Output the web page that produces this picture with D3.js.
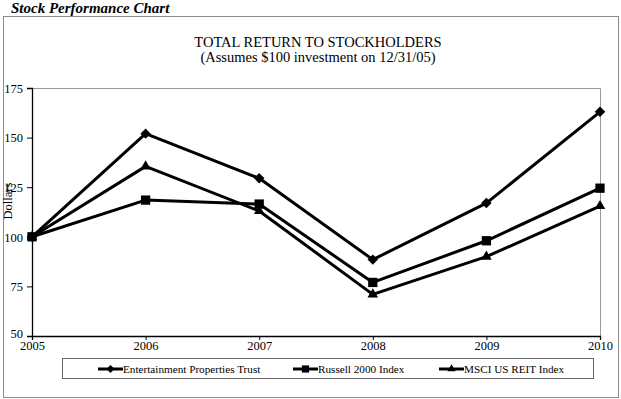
<!DOCTYPE html>
<html>
<head>
<meta charset="utf-8">
<script src="https://cdn.jsdelivr.net/npm/d3@7"></script>
<style>
  body { margin:0; background:#fff; }
  svg, svg text { font-family: "Liberation Serif", "DejaVu Serif", serif !important; }
</style>
</head>
<body>
<svg id="chart" width="621" height="399"></svg>
<script>
// data
const years   = [2005, 2006, 2007, 2008, 2009, 2010];
const eprVals = [100, 152, 129.5, 88.5, 117, 163];
const rusVals = [100, 118.5, 116.5, 77, 98, 124.5];
const reitVals= [100, 135.5, 113, 71, 90, 115.5];
const seriesNames = ['Entertainment Properties Trust', 'Russell 2000 Index', 'MSCI US REIT Index'];
const yTicks  = [50, 75, 100, 125, 150, 175];

const series = [
  { name: seriesNames[0], vals: eprVals,  sym: d3.symbolDiamond2, size: 70 },
  { name: seriesNames[1], vals: rusVals,  sym: d3.symbolSquare2,  size: 110 },
  { name: seriesNames[2], vals: reitVals, sym: d3.symbolTriangle2,size: 80 }
];

const svg = d3.select('#chart');
const L = 32, R = 600, T = 88, B = 336;

const x = d3.scaleLinear().domain([2005, 2010]).range([L, R]);
const y = d3.scaleLinear().domain([50, 175]).range([B, T]);

// header + outer frame
svg.append('text').attr('x', 11).attr('y', 13)
  .style('font-weight','bold').style('font-style','italic').style('font-size','15px')
  .text('Stock Performance Chart');
svg.append('rect').attr('x', 3.5).attr('y', 16.5).attr('width', 615).attr('height', 381)
  .attr('fill','none').attr('stroke','#8c8c8c');

// titles
svg.append('text').attr('x', 318).attr('y', 47).attr('text-anchor','middle')
  .style('font-size','14.5px').text('TOTAL RETURN TO STOCKHOLDERS');
svg.append('text').attr('x', 318).attr('y', 62).attr('text-anchor','middle')
  .style('font-size','14.5px').text('(Assumes $100 investment on 12/31/05)');

// plot frame: gray top/right
svg.append('path').attr('d', `M${L},${T+0.5}H${R+0.5}V${B}`)
  .attr('fill','none').attr('stroke','#9a9a9a');

// axes
const yAx = svg.append('g').attr('transform', `translate(${L},0)`)
  .call(d3.axisLeft(y).tickValues(yTicks).tickSize(5).tickPadding(4));
const xAx = svg.append('g').attr('transform', `translate(0,${B})`)
  .call(d3.axisBottom(x).tickValues(years).tickFormat(d3.format('d')).tickSize(4).tickPadding(1));
[yAx, xAx].forEach(g => {
  g.select('.domain').attr('stroke','#000').attr('stroke-width',1.3);
  g.selectAll('.tick line').attr('stroke','#000');
  g.selectAll('text').style('font-size','12.5px').attr('fill','#000');
});
yAx.selectAll('text').attr('dy','0.35em');
yAx.selectAll('.tick').filter(d => d === 50).select('text').attr('dy','0.1em');
xAx.selectAll('text').attr('dy','0.75em');

svg.append('text').attr('transform','translate(12,201) rotate(-90)')
  .attr('text-anchor','middle').style('font-size','12.5px').text('Dollars');

// lines + markers
const line = d3.line().x((d,i) => x(years[i])).y(d => y(d));
series.forEach(s => {
  svg.append('path').datum(s.vals).attr('d', line)
    .attr('fill','none').attr('stroke','#000').attr('stroke-width',3).attr('stroke-linejoin','round');
  svg.append('g').selectAll('path').data(s.vals).join('path')
    .attr('transform', (d,i) => `translate(${x(years[i])},${y(d)})`)
    .attr('d', d3.symbol(s.sym, s.size)).attr('fill','#000');
});

// legend
const lg = svg.append('g');
lg.append('rect').attr('x', 62.5).attr('y', 358.5).attr('width', 531).attr('height', 20)
  .attr('fill','none').attr('stroke','#666');
const legX = [98, 293, 439];
series.forEach((s, i) => {
  const g = lg.append('g').attr('transform', `translate(${legX[i]},369)`);
  g.append('line').attr('x1',0).attr('x2',25).attr('stroke','#000').attr('stroke-width',3);
  g.append('path').attr('transform','translate(12.5,0)').attr('d', d3.symbol(s.sym, s.size*0.6)).attr('fill','#000');
  g.append('text').attr('x', 25).attr('y', 4).style('font-size','11.2px').text(s.name);
});
</script>
</body>
</html>
